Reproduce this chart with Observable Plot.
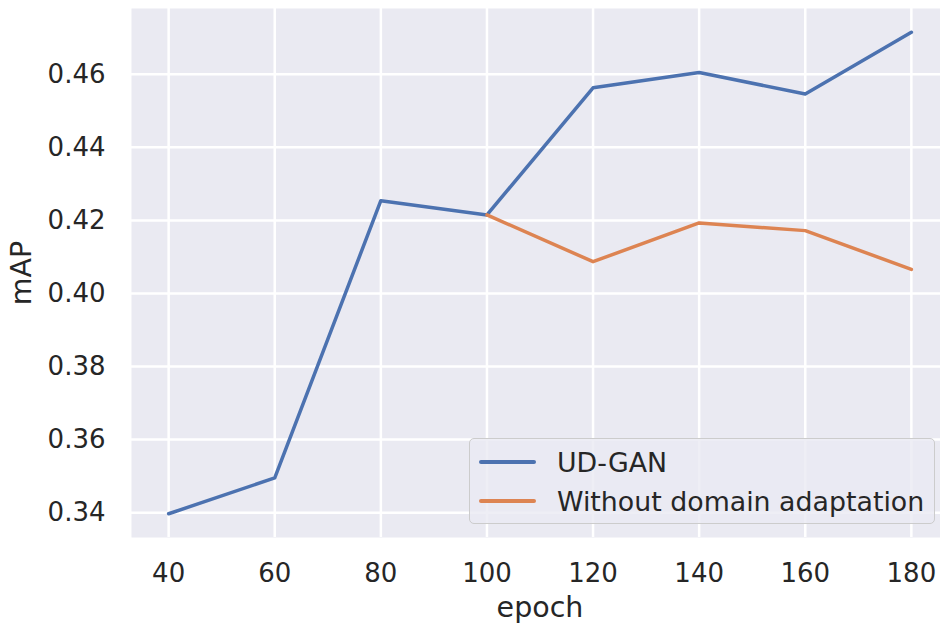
<!DOCTYPE html>
<html><head><meta charset="utf-8">
<script src="https://cdn.jsdelivr.net/npm/d3@7"></script>
<script src="https://cdn.jsdelivr.net/npm/@observablehq/plot@0.6"></script>
<style>
body{margin:0;background:#fff;font-family:"DejaVu Sans",sans-serif;overflow:hidden;}
#wrap{position:relative;width:940px;height:623px;overflow:hidden;}
#wrap svg{display:block;max-width:none;}
#legend{position:absolute;left:469px;top:438px;width:466px;height:86px;background:rgba(234,234,242,0.8);border:1.5px solid #cccccc;border-radius:5px;box-sizing:border-box;font-size:26.8px;color:#262626;}
.row{position:absolute;left:0;display:flex;align-items:center;}
.sw{display:inline-block;width:57px;height:3.5px;margin-left:9px;margin-right:21px;border-radius:2px;}
g[aria-label="x-axis label"] text, g[aria-label="y-axis label"] text {font-size:28.5px;}
</style></head>
<body><div id="wrap"></div>
<script>
const epochs = [40, 60, 80, 100, 120, 140, 160, 180];
const udgan = [0.3397, 0.3495, 0.4254, 0.4215, 0.4563, 0.4605, 0.4546, 0.4715];
const noDAepochs = [100, 120, 140, 160, 180];
const noDA = [0.4215, 0.4087, 0.4193, 0.4172, 0.4066];
const seriesNames = ["UD-GAN", "Without domain adaptation"];
const colors = ["#4c72b0", "#dd8452"];
const xTicks = [40, 60, 80, 100, 120, 140, 160, 180];
const yTicks = [0.34, 0.36, 0.38, 0.40, 0.42, 0.44, 0.46];

const data = [
  ...epochs.map((e, i) => ({epoch: e, mAP: udgan[i], series: seriesNames[0]})),
  ...noDAepochs.map((e, i) => ({epoch: e, mAP: noDA[i], series: seriesNames[1]}))
];

const chart = Plot.plot({
  width: 948, height: 623,
  marginLeft: 131, marginTop: 8, marginBottom: 86, marginRight: 0,
  style: {fontFamily: "DejaVu Sans, sans-serif", fontSize: "26px", color: "#262626", background: "#fff"},
  x: {domain: [33, 187], ticks: xTicks, label: "epoch"},
  y: {domain: [0.3332, 0.4780], ticks: yTicks, tickFormat: d3.format(".2f"), label: "mAP"},
  color: {domain: seriesNames, range: colors},
  marks: [
    Plot.frame({fill: "#eaeaf2", stroke: null}),
    Plot.gridX(xTicks, {stroke: "#ffffff", strokeOpacity: 1, strokeWidth: 2.5}),
    Plot.gridY(yTicks, {stroke: "#ffffff", strokeOpacity: 1, strokeWidth: 2.5}),
    Plot.axisX(xTicks, {tickSize: 0, tickPadding: 26, fontSize: 26, label: "epoch", labelAnchor: "center", labelOffset: 79, labelArrow: "none"}),
    Plot.axisY(yTicks, {tickSize: 0, tickPadding: 26, fontSize: 26, tickFormat: d3.format(".2f"), label: "mAP", labelAnchor: "center", labelOffset: 121, labelArrow: "none"}),
    Plot.line(data, {x: "epoch", y: "mAP", z: "series", stroke: "series", strokeWidth: 3.5, strokeLinejoin: "round", strokeLinecap: "round"})
  ]
});
const wrap = document.getElementById("wrap");
wrap.appendChild(chart);

const leg = document.createElement("div");
leg.id = "legend";
seriesNames.forEach((n, i) => {
  const r = document.createElement("div");
  r.className = "row";
  r.style.top = (i === 0 ? 5 : 44) + "px";
  r.style.height = "36px";
  const s = document.createElement("span");
  s.className = "sw"; s.style.background = colors[i];
  const t = document.createElement("span");
  t.textContent = n;
  r.appendChild(s); r.appendChild(t);
  leg.appendChild(r);
});
wrap.appendChild(leg);
</script></body></html>
